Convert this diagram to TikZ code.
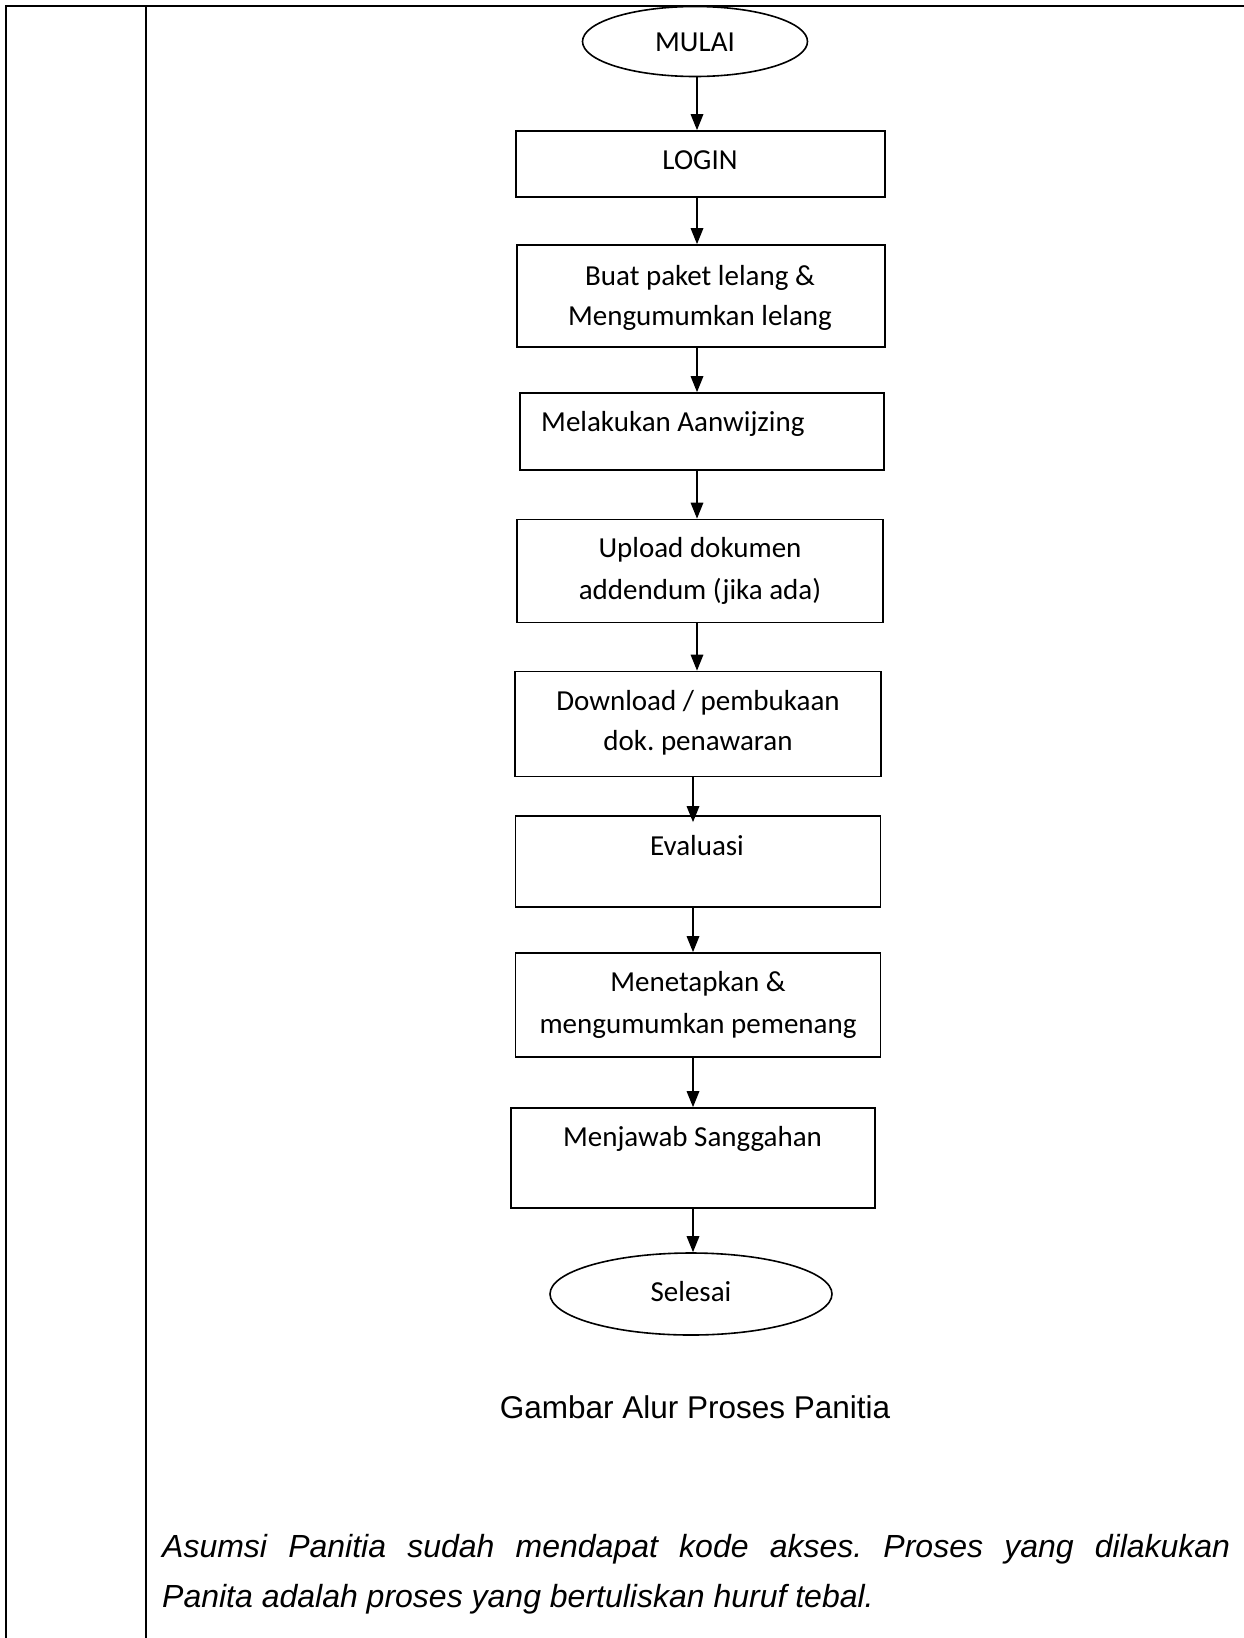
\documentclass[tikz,border=0pt]{standalone}
\usepackage{fontspec}
\setmainfont{Carlito}
\newfontfamily\arialf{Liberation Sans}
\usetikzlibrary{arrows.meta,shapes.geometric}
\frenchspacing
\begin{document}
\begin{tikzpicture}[x=1pt,y=-1pt,
  frame/.style={line width=2pt},
  box/.style={draw, line width=1.7pt, rectangle, inner sep=0pt},
  term/.style={draw, line width=1.6pt, ellipse, inner sep=0pt},
  lbl/.style={anchor=base, inner sep=0pt, font=\fontsize{29}{35}\selectfont},
  arr/.style={line width=1.7pt, -{Triangle[length=16pt,width=12.5pt]}},
  captxt/.style={anchor=base, inner sep=0pt, font=\arialf\fontsize{31.5}{38}\selectfont},
  notetxt/.style={anchor=base west, inner sep=0pt, font=\arialf\itshape\fontsize{32}{50}\selectfont}
]
\useasboundingbox (0,0) rectangle (1244,1638);
% table frame
\draw[frame] (6,1638) -- (6,6) -- (1244,6);
\draw[frame] (146,6) -- (146,1638);

% shapes
\node[term, minimum width=225pt, minimum height=70pt] (mulai) at (695,41.5) {};
\node[box, minimum width=369pt, minimum height=66pt] (login) at (700.5,164) {};
\node[box, minimum width=368pt, minimum height=102pt] (buat) at (701,296) {};
\node[box, minimum width=364pt, minimum height=77pt] (aanw) at (702,431.5) {};
\node[box, minimum width=366pt, minimum height=103pt] (upload) at (700,571) {};
\node[box, minimum width=366pt, minimum height=105pt] (download) at (698,724) {};
\node[box, minimum width=365pt, minimum height=91pt] (evaluasi) at (698,861.5) {};
\node[box, minimum width=365pt, minimum height=104pt] (tetap) at (698,1005) {};
\node[box, minimum width=364pt, minimum height=100pt] (jawab) at (693,1158) {};
\node[term, minimum width=282pt, minimum height=82pt] (selesai) at (691,1294) {};

% texts
\node[lbl] (tmulai) at (695,51.5) {MULAI};
\node[lbl] (tlogin) at (700,169.5) {LOGIN};
\node[lbl] (tbuat1) at (700,285) {Buat paket lelang \&};
\node[lbl] (tbuat2) at (700,325.5) {Mengumumkan lelang};
\node[lbl, anchor=base west] (taanw) at (541,431) {Melakukan Aanwijzing};
\node[lbl] (tup1) at (700,557) {Upload dokumen};
\node[lbl] (tup2) at (700,599) {addendum (jika ada)};
\node[lbl] (tdl1) at (698,710) {Download / pembukaan};
\node[lbl] (tdl2) at (698,750.5) {dok. penawaran};
\node[lbl] (teval) at (697,855.5) {Evaluasi};
\node[lbl] (ttet1) at (698,991.5) {Menetapkan \&};
\node[lbl] (ttet2) at (698,1033) {mengumumkan pemenang};
\node[lbl] (tjawab) at (692.5,1146.5) {Menjawab Sanggahan};
\node[lbl] (tsel) at (691,1301) {Selesai};

\node[captxt] (caption) at (695,1418) {Gambar Alur Proses Panitia};
\node[notetxt] (note1) at (162,1557) {\makebox[1068pt][s]{Asumsi Panitia sudah mendapat kode akses. Proses yang dilakukan}};
\node[notetxt] (note2) at (162,1607) {Panita adalah proses yang bertuliskan huruf tebal.};

% connectors
\coordinate (axA) at (697,0);
\coordinate (axB) at (693,0);
\draw[arr] (axA |- mulai.south) -- (axA |- login.north);
\draw[arr] (axA |- login.south) -- (axA |- buat.north);
\draw[arr] (axA |- buat.south) -- (axA |- aanw.north);
\draw[arr] (axA |- aanw.south) -- (axA |- upload.north);
\draw[arr] (axA |- upload.south) -- (axA |- download.north);
\draw[arr] (axB |- download.south) -- ([yshift=-7pt]axB |- evaluasi.north);
\draw[arr] (axB |- evaluasi.south) -- (axB |- tetap.north);
\draw[arr] (axB |- tetap.south) -- (axB |- jawab.north);
\draw[arr] (axB |- jawab.south) -- (axB |- selesai.north);
\end{tikzpicture}
\end{document}
